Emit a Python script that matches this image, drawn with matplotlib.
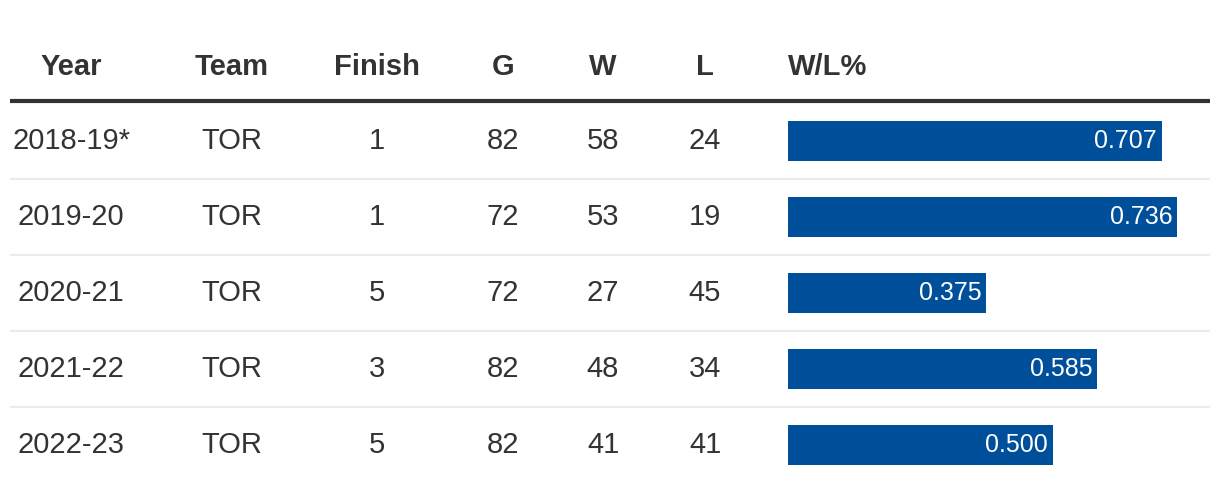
import matplotlib
matplotlib.use("Agg")
import matplotlib.pyplot as plt

years = ["2018-19*", "2019-20", "2020-21", "2021-22", "2022-23"]
teams = ["TOR", "TOR", "TOR", "TOR", "TOR"]
finish = [1, 1, 5, 3, 5]
games = [82, 72, 72, 82, 82]
wins = [58, 53, 27, 48, 41]
losses = [24, 19, 45, 34, 41]
wl_pct = [0.707, 0.736, 0.375, 0.585, 0.500]
headers = ["Year", "Team", "Finish", "G", "W", "L", "W/L%"]

W, H = 1220, 492
fig = plt.figure(figsize=(W / 100, H / 100), dpi=100)
fig.patch.set_facecolor("white")

ax0 = fig.add_axes([0, 0, 1, 1])
ax0.set_xlim(0, W)
ax0.set_ylim(H, 0)
ax0.axis("off")

txt_color = "#333333"
col_x = [71, 232, 377, 503, 603, 705]
head_y = 67
row0 = 141
row_h = 76

for x, h in zip(col_x, headers[:6]):
    ax0.text(x, head_y, h, ha="center", va="center", fontsize=21,
             fontweight="bold", color=txt_color, family="Liberation Sans")
ax0.text(788, head_y, headers[6], ha="left", va="center", fontsize=21,
         fontweight="bold", color=txt_color, family="Liberation Sans")

ax0.plot([10, 1210], [101, 101], color="#333333", lw=3, solid_capstyle="butt")
for i in range(1, len(years)):
    y = row0 - row_h / 2 + row_h * i
    ax0.plot([10, 1210], [y, y], color="#ebebeb", lw=1.5, solid_capstyle="butt")

cols = [years, teams, finish, games, wins, losses]
for i in range(len(years)):
    y = row0 + row_h * i
    for x, col in zip(col_x, cols):
        ax0.text(x, y, str(col[i]), ha="center", va="center", fontsize=21,
                 color=txt_color, family="Liberation Sans")

# bar axes
left = 788
right = 1210
px_per_unit = 529
top = 103
bottom = top + row_h * len(years)
axb = fig.add_axes([left / W, (H - bottom) / H, (right - left) / W, (bottom - top) / H])
axb.set_xlim(0, (right - left) / px_per_unit)
axb.set_ylim(len(years) - 0.5, -0.5)
axb.axis("off")
axb.patch.set_alpha(0)
ypos = list(range(len(years)))
axb.barh(ypos, wl_pct, height=40 / row_h, color="#004f9a", left=0)
off = 5 / px_per_unit
for yi, v in zip(ypos, wl_pct):
    axb.text(v - off, yi, f"{v:.3f}", ha="right", va="center", fontsize=18,
             color="white", family="Liberation Sans")

fig.savefig("out.png", dpi=100, facecolor="white")
